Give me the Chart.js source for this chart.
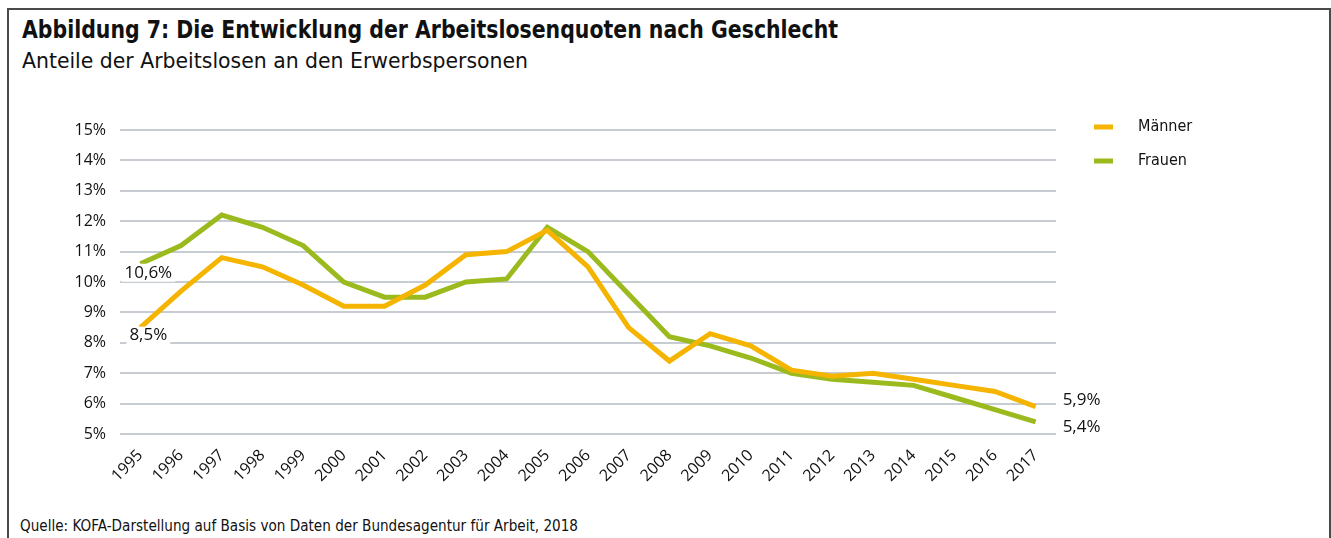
<!DOCTYPE html>
<html>
<head>
<meta charset="utf-8">
<script src="https://cdn.jsdelivr.net/npm/chart.js@4"></script>
<style>
    html, body { margin: 0; padding: 0; background: #fff; }
    #wrap { position: relative; width: 1331px; height: 538px; overflow: hidden; }
    #frame { position: absolute; left: 7px; top: 8px; width: 1320px; height: 560px;
             border: 2px solid #4a4a4a; border-bottom: none; }
    .txt { position: absolute; white-space: nowrap; color: #111; transform-origin: 0 0;
           font-family: "Liberation Sans Narrow", "DejaVu Sans Condensed", "Roboto", sans-serif; }
    #title { left: 22px; top: 16px; font-size: 24px; font-weight: bold; }
    #subtitle { left: 22px; top: 49px; font-size: 21px; }
    #source { left: 20px; top: 517px; font-size: 15px; }
    canvas { position: absolute; left: 0; top: 0; }
</style>
</head>
<body>
<div id="wrap">
    <div id="frame"></div>
    <div class="txt" id="title" data-w="816">Abbildung 7: Die Entwicklung der Arbeitslosenquoten nach Geschlecht</div>
    <div class="txt" id="subtitle" data-w="506">Anteile der Arbeitslosen an den Erwerbspersonen</div>
    <div class="txt" id="source" data-w="558">Quelle: KOFA-Darstellung auf Basis von Daten der Bundesagentur für Arbeit, 2018</div>
    <canvas id="chart" width="1331" height="538"></canvas>
</div>
<script>
    // Jahre und Quoten (in %)
    var years = ['1995', '1996', '1997', '1998', '1999', '2000', '2001', '2002', '2003', '2004', '2005',
        '2006', '2007', '2008', '2009', '2010', '2011', '2012', '2013', '2014', '2015', '2016', '2017'];
    var maenner = [8.5, 9.7, 10.8, 10.5, 9.9, 9.2, 9.2, 9.9, 10.9, 11.0, 11.7,
        10.5, 8.5, 7.4, 8.3, 7.9, 7.1, 6.9, 7.0, 6.8, 6.6, 6.4, 5.9];
    var frauen = [10.6, 11.2, 12.2, 11.8, 11.2, 10.0, 9.5, 9.5, 10.0, 10.1, 11.8,
        11.0, 9.6, 8.2, 7.9, 7.5, 7.0, 6.8, 6.7, 6.6, 6.2, 5.8, 5.4];
    var seriesNames = ['Männer', 'Frauen'];
    var seriesColors = ['#f4b400', '#9bba1e'];
    var yTicks = [5, 6, 7, 8, 9, 10, 11, 12, 13, 14, 15];

    // Texte auf Breite bringen
    document.querySelectorAll('.txt').forEach(function (el) {
        var w = el.getBoundingClientRect().width;
        var target = parseFloat(el.getAttribute('data-w'));
        el.style.transform = 'scaleX(' + (target / w) + ')';
    });

    var numFont = '"Open Sans", "DejaVu Sans", sans-serif';
    var condFont = '"Liberation Sans Narrow", "DejaVu Sans Condensed", sans-serif';

    function fmt(v) {
        return v.toFixed(1).replace('.', ',') + '%';
    }

    // Werte am Anfang und Ende der Linien
    var endLabels = {
        id: 'endLabels',
        afterDatasetsDraw: function (chart) {
            var ctx = chart.ctx;
            ctx.save();
            ctx.font = '17px ' + numFont;
            ctx.textBaseline = 'middle';
            chart.data.datasets.forEach(function (ds, i) {
                var meta = chart.getDatasetMeta(i);
                var first = meta.data[0];
                var last = meta.data[meta.data.length - 1];
                var t1 = fmt(ds.data[0]);
                var w1 = ctx.measureText(t1).width;
                var fx = first.x + 8 - w1 / 2;
                var fy = first.y + (i === 0 ? 8 : 9);
                ctx.fillStyle = '#fff';
                ctx.fillRect(fx - 3, fy - 9, w1 + 6, 18);
                ctx.fillStyle = '#111';
                ctx.textAlign = 'left';
                ctx.fillText(t1, fx, fy);

                var t2 = fmt(ds.data[ds.data.length - 1]);
                ctx.fillText(t2, last.x + 27, last.y + (i === 0 ? -6 : 5));
            });
            ctx.restore();
        }
    };

    // Legende rechts oben
    var sideLegend = {
        id: 'sideLegend',
        afterDraw: function (chart) {
            var ctx = chart.ctx;
            ctx.save();
            ctx.font = '16px ' + condFont;
            ctx.textBaseline = 'middle';
            chart.data.datasets.forEach(function (ds, i) {
                var y = 127 + i * 34;
                ctx.fillStyle = ds.borderColor;
                ctx.fillRect(1094, y - 2.5, 19, 5);
                ctx.fillStyle = '#111';
                ctx.fillText(ds.label, 1138, y);
            });
            ctx.restore();
        }
    };

    var ctx = document.getElementById('chart').getContext('2d');
    var myChart = new Chart(ctx, {
        type: 'line',
        data: {
            labels: years,
            datasets: [{
                label: seriesNames[0],
                data: maenner,
                borderColor: seriesColors[0],
                backgroundColor: seriesColors[0],
                borderWidth: 5,
                pointRadius: 0,
                tension: 0
            }, {
                label: seriesNames[1],
                data: frauen,
                borderColor: seriesColors[1],
                backgroundColor: seriesColors[1],
                borderWidth: 5,
                pointRadius: 0,
                tension: 0
            }]
        },
        options: {
            responsive: false,
            animation: false,
            layout: { padding: { left: 70, top: 130, right: 275, bottom: 44 } },
            plugins: {
                legend: { display: false },
                tooltip: { enabled: false }
            },
            scales: {
                x: {
                    offset: true,
                    grid: { display: false },
                    border: { display: false },
                    ticks: {
                        color: '#111',
                        font: { family: numFont, size: 16 },
                        maxRotation: 45,
                        minRotation: 45,
                        autoSkip: false,
                        padding: 4
                    },
                    afterFit: function (s) { s.height = 60; }
                },
                y: {
                    min: 5,
                    max: 15,
                    afterBuildTicks: function (s) {
                        s.ticks = yTicks.map(function (v) { return { value: v }; });
                    },
                    grid: { color: '#c6ccd2', lineWidth: 2, drawTicks: false },
                    border: { display: false },
                    ticks: {
                        color: '#111',
                        font: { family: numFont, size: 16 },
                        padding: 14,
                        callback: function (v) { return v + '%'; }
                    },
                    afterFit: function (s) { s.width = 50; }
                }
            }
        },
        plugins: [endLabels, sideLegend]
    });
</script>
</body>
</html>
